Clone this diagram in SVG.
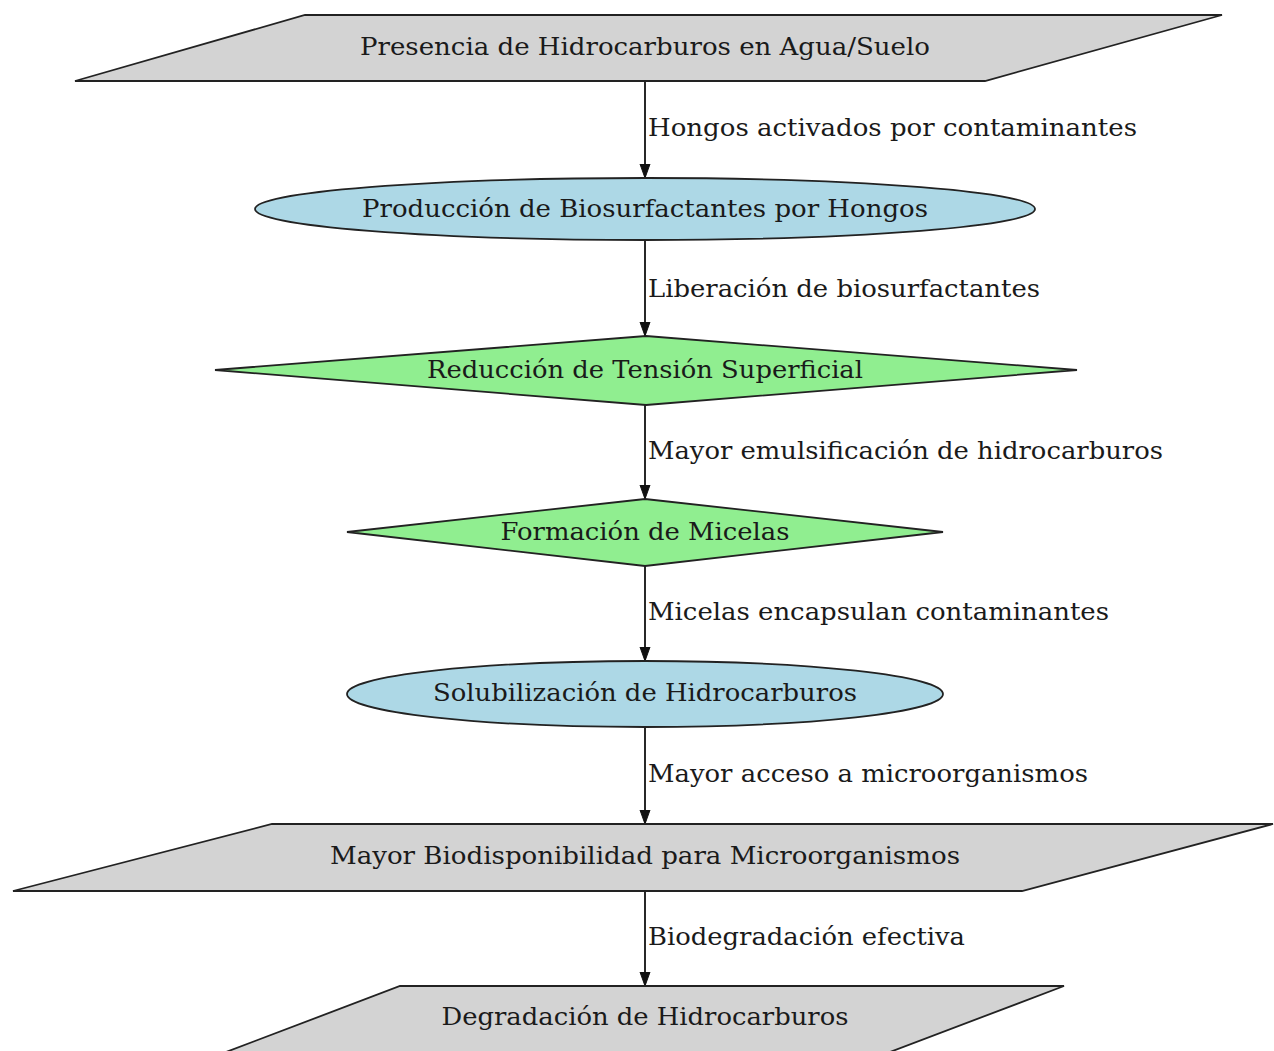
<svg xmlns="http://www.w3.org/2000/svg" width="1274" height="1051" viewBox="0 0 1274 1051">
<defs>
<style>
.para{fill:#d3d3d3;stroke:#222;stroke-width:1.8}
.ell{fill:#add8e6;stroke:#222;stroke-width:1.8}
.dia{fill:#90ee90;stroke:#222;stroke-width:1.8}
.nt{font-family:"DejaVu Serif","Liberation Serif",serif;font-size:24px;fill:#1a1a1a;text-anchor:middle}
.et{font-family:"DejaVu Serif","Liberation Serif",serif;font-size:24px;fill:#1a1a1a}
.edge{stroke:#111;stroke-width:1.8;fill:none}
</style>
<marker id="arr" viewBox="0 0 14 12" refX="14" refY="6" markerWidth="14" markerHeight="12" markerUnits="userSpaceOnUse" orient="auto">
<path d="M0,1 L14,6 L0,11 Z" fill="#111" stroke="#111" stroke-width="1"/>
</marker>
</defs>
<rect width="1274" height="1051" fill="#ffffff"/>
<g id="connectors">
<line class="edge" x1="645" y1="81" x2="645" y2="178" marker-end="url(#arr)"/>
<line class="edge" x1="645" y1="240" x2="645" y2="336" marker-end="url(#arr)"/>
<line class="edge" x1="645" y1="405" x2="645" y2="499" marker-end="url(#arr)"/>
<line class="edge" x1="645" y1="566" x2="645" y2="661" marker-end="url(#arr)"/>
<line class="edge" x1="645" y1="727" x2="645" y2="824" marker-end="url(#arr)"/>
<line class="edge" x1="645" y1="891" x2="645" y2="986" marker-end="url(#arr)"/>
<text class="et" x="648" y="136" textLength="489" lengthAdjust="spacingAndGlyphs">Hongos activados por contaminantes</text>
<text class="et" x="648" y="297" textLength="392" lengthAdjust="spacingAndGlyphs">Liberación de biosurfactantes</text>
<text class="et" x="648" y="459" textLength="515" lengthAdjust="spacingAndGlyphs">Mayor emulsificación de hidrocarburos</text>
<text class="et" x="648" y="620" textLength="461" lengthAdjust="spacingAndGlyphs">Micelas encapsulan contaminantes</text>
<text class="et" x="648" y="782" textLength="440" lengthAdjust="spacingAndGlyphs">Mayor acceso a microorganismos</text>
<text class="et" x="648" y="945" textLength="317" lengthAdjust="spacingAndGlyphs">Biodegradación efectiva</text>
</g>
<g id="n1">
<polygon class="para" points="305,15 1222,15 985,81 75,81"/>
<text class="nt" x="645" y="55" textLength="570" lengthAdjust="spacingAndGlyphs">Presencia de Hidrocarburos en Agua/Suelo</text>
</g>
<g id="n2">
<ellipse class="ell" cx="645" cy="209" rx="390" ry="31"/>
<text class="nt" x="645" y="217" textLength="566" lengthAdjust="spacingAndGlyphs">Producción de Biosurfactantes por Hongos</text>
</g>
<g id="n3">
<polygon class="dia" points="646,336 1077,370 646,405 215,370"/>
<text class="nt" x="645" y="378" textLength="436" lengthAdjust="spacingAndGlyphs">Reducción de Tensión Superficial</text>
</g>
<g id="n4">
<polygon class="dia" points="645,499 943,532 645,566 347,532"/>
<text class="nt" x="645" y="540" textLength="289" lengthAdjust="spacingAndGlyphs">Formación de Micelas</text>
</g>
<g id="n5">
<ellipse class="ell" cx="645" cy="694" rx="298" ry="33"/>
<text class="nt" x="645" y="701" textLength="424" lengthAdjust="spacingAndGlyphs">Solubilización de Hidrocarburos</text>
</g>
<g id="n6">
<polygon class="para" points="272,824 1273,824 1022,891 13,891"/>
<text class="nt" x="645" y="864" textLength="630" lengthAdjust="spacingAndGlyphs">Mayor Biodisponibilidad para Microorganismos</text>
</g>
<g id="n7">
<polygon class="para" points="400,986 1064,986 890,1052 226,1052"/>
<text class="nt" x="645" y="1025" textLength="407" lengthAdjust="spacingAndGlyphs">Degradación de Hidrocarburos</text>
</g>
</svg>
